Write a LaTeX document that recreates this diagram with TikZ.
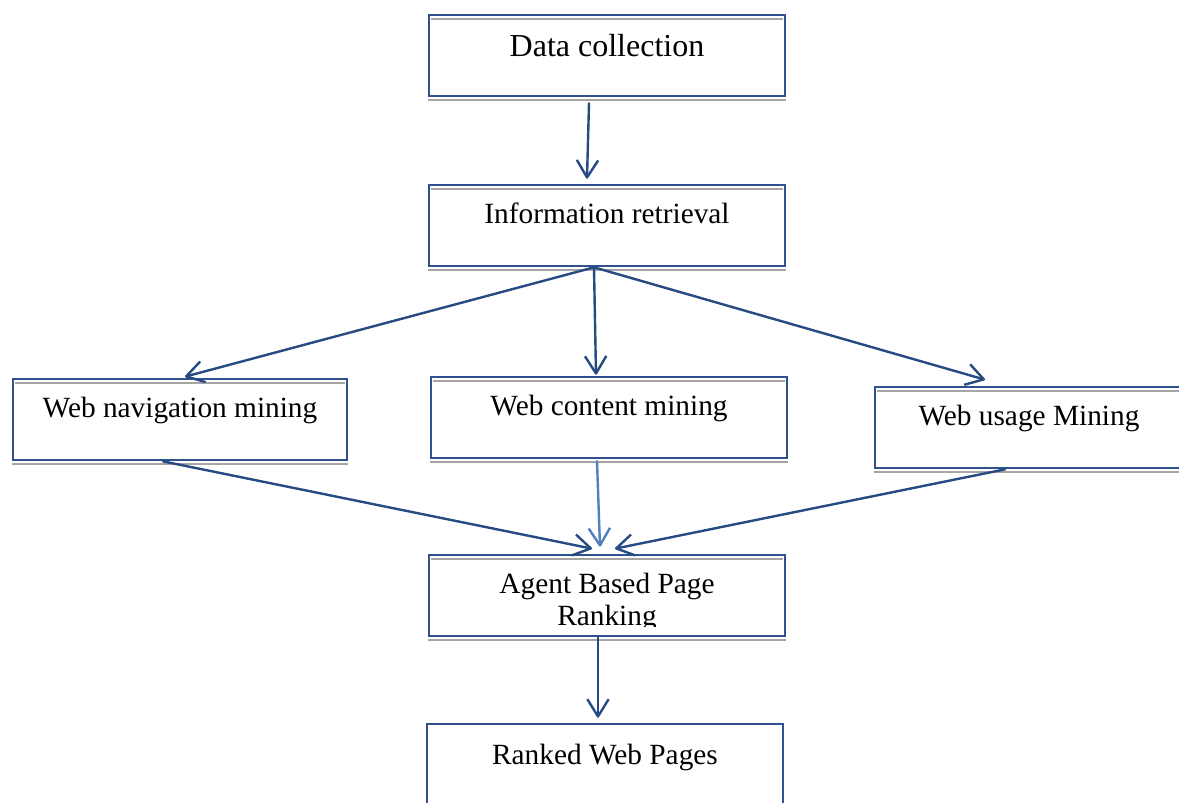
\documentclass[tikz,border=0pt]{standalone}
\usepackage{fontspec}
\setmainfont{Liberation Serif}
\usetikzlibrary{arrows.meta,calc}
\definecolor{boxblue}{RGB}{47,82,143}
\definecolor{arrowblue}{RGB}{38,74,130}
\definecolor{lightarrow}{RGB}{79,129,189}
\definecolor{shadegrey}{RGB}{165,165,165}
\tikzset{
  stepbox/.style={draw=boxblue, line width=2pt, fill=white, rectangle,
    inner xsep=0pt, inner ysep=0pt, minimum width=267pt, minimum height=60.75pt,
    text height=28.5pt, text depth=32.25pt, font=\fontsize{22}{24}\selectfont},
  shadeline/.style={draw=shadegrey, line width=1.3pt},
  flow/.style={draw=arrowblue, line width=1.8pt, line cap=round,
    -{Straight Barb[length=13pt, width=16pt, line join=round]}},
  lightflow/.style={flow, draw=lightarrow},
  linetext/.style={anchor=base, inner sep=0pt, font=\fontsize{22}{24}\selectfont}
}
\begin{document}
\begin{tikzpicture}[x=0.75pt, y=-0.75pt]
\clip (0,0) rectangle (1179,803);
\fill[white] (0,0) rectangle (1179,803);

% boxes
\node[stepbox, text height=30.75pt, text depth=30pt, font=\fontsize{24}{26}\selectfont]
  (data) at (607,55.5) {Data collection};
\node[stepbox] (info) at (607,225.5) {Information retrieval};
\node[stepbox, minimum width=250.5pt] (nav) at (180,419.5) {Web navigation mining};
\node[stepbox] (content) at (609,417.5) {Web content mining};
\node[stepbox, minimum width=231pt] (usage) at (1029,427.5) {Web usage Mining};
\node[stepbox] (agent) at (607,595.5) {};
\node[stepbox, text height=30pt, text depth=30.75pt] (ranked) at (605,764.5) {Ranked Web Pages};

% two-line label of the ranking box, cut off at its lower edge
\node[linetext] (agentA) at (607,593) {Agent Based Page};
\begin{scope}
  \clip (430,556) rectangle (784,626);
  \node[linetext] (agentB) at (607,625) {Ranking};
\end{scope}

% grey shading lines inside the top and below the bottom of the boxes
\foreach \b in {data,info,nav,content,usage,agent}{
  \draw[shadeline] ($(\b.north west)+(3,5)$) -- ($(\b.north east)+(-3,5)$);
  \draw[shadeline] ($(\b.south west)+(0,2.5)$) -- ($(\b.south east)+(0,2.5)$);
}

% connectors
\draw[flow] ($(data.south)+(-18,6)$) -- ($(info.north)+(-20,-5)$);
\draw[flow] ($(info.south)+(-13,0)$) -- ($(nav.north)+(5,-1)$);
\draw[flow] ($(info.south)+(-13,0)$) -- ($(content.north)+(-13,-1)$);
\draw[flow] ($(info.south)+(-13,0)$) -- ($(usage.north)+(-44,-6)$);
\draw[flow] ($(nav.south)+(-17,0)$) -- ($(agent.north)+(-15,-5)$);
\draw[lightflow] ($(content.south)+(-12,2)$) -- ($(agent.north)+(-7,-7)$);
\draw[flow] ($(usage.south)+(-24,0)$) -- ($(agent.north)+(8,-5)$);
\draw[flow] ($(agent.south)+(-9,0)$) -- ($(ranked.north)+(-7,-5)$);
\end{tikzpicture}
\end{document}
